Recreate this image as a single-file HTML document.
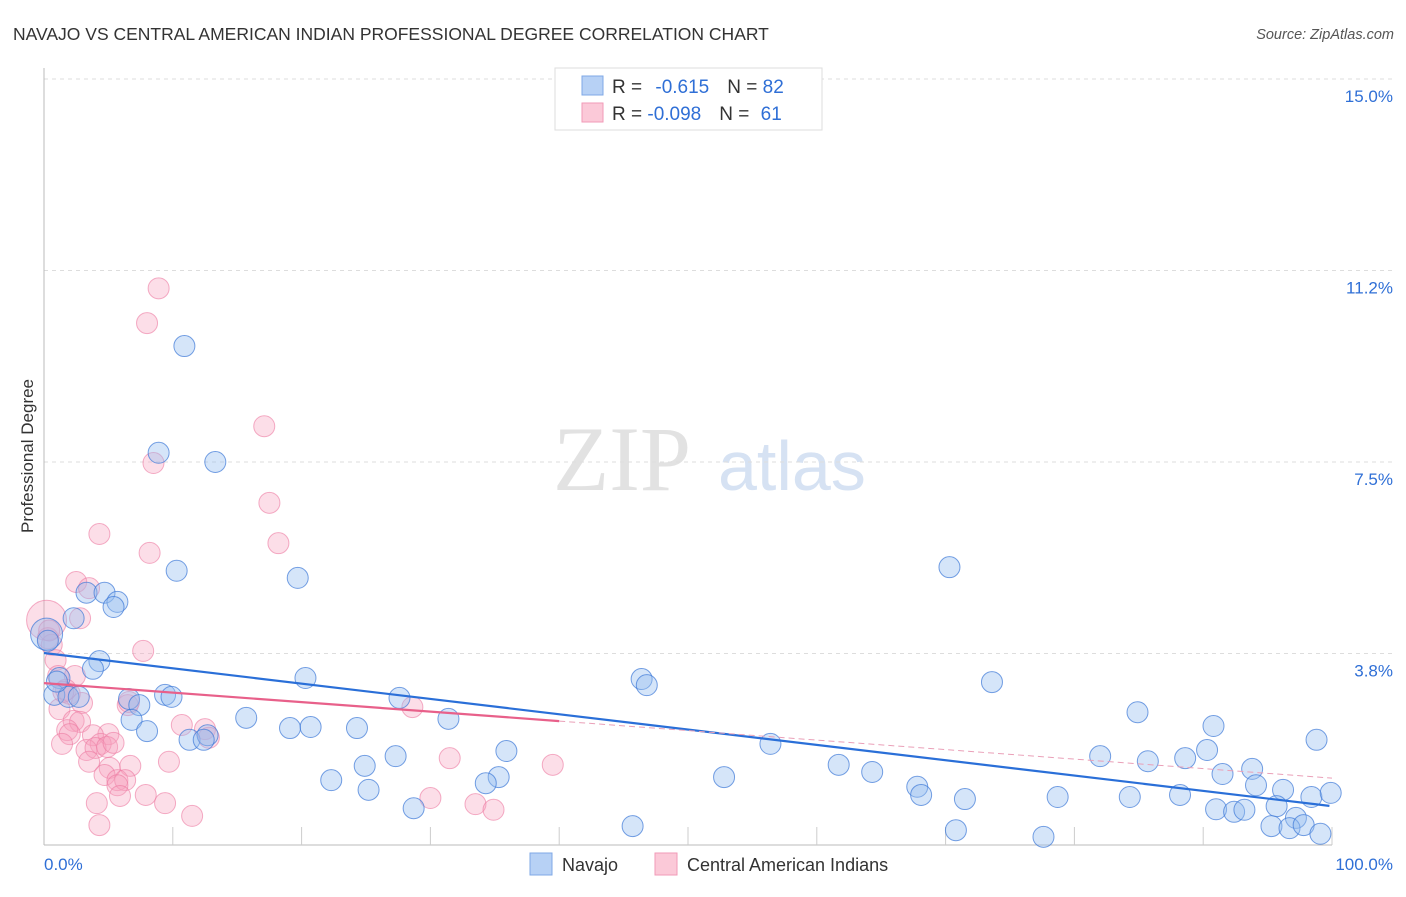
<!DOCTYPE html>
<html><head><meta charset="utf-8"><style>
body{margin:0;background:#fff;font-family:"Liberation Sans",sans-serif}
</style></head><body>
<svg id="chart" width="1406" height="892" viewBox="0 0 1406 892" xmlns="http://www.w3.org/2000/svg" font-family="Liberation Sans, sans-serif">
<text x="13" y="40" font-size="17.5" fill="#333">NAVAJO VS CENTRAL AMERICAN INDIAN PROFESSIONAL DEGREE CORRELATION CHART</text>
<text x="1394" y="39" font-size="14.5" fill="#555" font-style="italic" text-anchor="end">Source: ZipAtlas.com</text>
<g>
<text x="553" y="490" font-size="92" font-family="Liberation Serif, serif" fill="#e2e2e2">ZIP</text>
<text x="718" y="490" font-size="70" fill="#d6e2f3">atlas</text>
</g>
<g id="grid"></g>
<g id="axes"></g>
<g id="pts"></g>
<g id="trends"></g>
<text transform="translate(33,456) rotate(-90)" font-size="17" fill="#333" text-anchor="middle">Professional Degree</text>
<g>
<rect x="555" y="68" width="267" height="62" fill="#fff" stroke="#ddd"/>
<rect x="582" y="76" width="21" height="19" fill="#b7d1f5" stroke="#7fa8e6"/>
<rect x="582" y="103" width="21" height="19" fill="#fbc9d8" stroke="#f19ab7"/>
<text x="612" y="93" font-size="19" fill="#333">R = <tspan fill="#2f6fd6" dx="8">-0.615</tspan><tspan dx="18" fill="#333">N = </tspan><tspan fill="#2f6fd6">82</tspan></text>
<text x="612" y="120" font-size="19" fill="#333">R = <tspan fill="#2f6fd6">-0.098</tspan><tspan dx="18" fill="#333">N = </tspan><tspan fill="#2f6fd6" dx="6">61</tspan></text>
</g>
<g>
<rect x="530" y="853" width="22" height="22" fill="#b7d1f5" stroke="#7fa8e6"/>
<text x="562" y="871" font-size="18" fill="#333">Navajo</text>
<rect x="655" y="853" width="22" height="22" fill="#fbc9d8" stroke="#f19ab7"/>
<text x="687" y="871" font-size="18" fill="#333">Central American Indians</text>
</g>
</svg>
<script>
const yTicks=[3.75,7.5,11.25,15];
const yTickLabels=["3.8%","7.5%","11.2%","15.0%"];
const xTickLabels=["0.0%","100.0%"];
const navajoX=[10.9,8.9,13.3,10.3,19.7,70.3,3.3,4.7,5.7,5.4,2.3,0.2,4.3,3.8,20.3,46.4,46.8,73.6,1.2,0.8,1.9,2.7,6.6,7.4,9.4,9.9,27.6,6.8,8.0,15.7,19.1,20.7,24.3,31.4,84.9,90.8,11.3,12.7,12.4,56.4,35.9,27.3,90.3,98.8,82,85.7,88.6,24.9,61.7,64.3,93.8,91.5,22.3,35.3,34.3,52.8,94.1,67.8,25.2,68.1,71.5,78.7,84.3,88.2,96.2,98.4,99.9,28.7,91,92.4,93.2,95.7,97.2,95.3,96.7,97.8,99.1,45.7,70.8,77.6,0.3,1.0];
const navajoY=[9.77,7.68,7.5,5.37,5.23,5.44,4.94,4.94,4.76,4.66,4.44,4.13,3.6,3.45,3.27,3.25,3.13,3.19,3.27,2.94,2.9,2.9,2.86,2.74,2.94,2.9,2.88,2.45,2.23,2.49,2.29,2.31,2.29,2.47,2.6,2.33,2.06,2.15,2.06,1.98,1.84,1.74,1.86,2.06,1.74,1.64,1.7,1.55,1.57,1.43,1.49,1.39,1.27,1.33,1.21,1.33,1.17,1.14,1.08,0.98,0.9,0.94,0.94,0.98,1.08,0.94,1.02,0.72,0.7,0.65,0.69,0.76,0.53,0.37,0.33,0.39,0.22,0.37,0.29,0.16,4.0,3.2];
const camX=[8.9,8,17.1,8.5,17.5,18.2,4.3,8.2,2.5,3.5,2.8,0.2,0.3,0.6,7.7,0.9,1.1,2.4,1.7,2,2.95,1.2,6.5,28.6,2.3,2.8,1.8,2,10.7,12.5,12.8,1.4,5,3.8,4.4,3.3,4,4.9,5.4,3.5,9.7,31.5,39.5,5.1,6.7,4.7,5.7,6.3,5.7,7.9,5.9,30,4.1,9.4,33.5,34.9,11.5,4.3,0.4,1.5,6.6];
const camY=[10.9,10.22,8.2,7.48,6.7,5.91,6.09,5.72,5.15,5.03,4.44,4.4,4.05,3.92,3.8,3.62,3.31,3.31,3.04,2.96,2.78,2.66,2.74,2.7,2.43,2.41,2.25,2.17,2.35,2.27,2.1,1.98,2.17,2.15,1.98,1.86,1.9,1.92,2,1.63,1.63,1.7,1.57,1.51,1.55,1.37,1.27,1.27,1.17,0.98,0.96,0.92,0.82,0.82,0.8,0.69,0.57,0.39,4.2,3.0,2.8];
const navajoTrend=[3.76,0.76];
const camTrend=[3.17,1.31];
const camSolidEnd=40;
const ns="http://www.w3.org/2000/svg";
const X=v=>44+v*12.88, Y=v=>845-v*51.07;
function mk(t,a,p){const e=document.createElementNS(ns,t);for(const k in a)e.setAttribute(k,a[k]);p.appendChild(e);return e;}
const grid=document.getElementById('grid'),axes=document.getElementById('axes'),pts=document.getElementById('pts'),tr=document.getElementById('trends');
yTicks.forEach((t,i)=>{
 const l=mk('line',{x1:44,x2:1394,y1:Y(t),y2:Y(t),stroke:'#ddd','stroke-dasharray':'4,4'},grid);
 
 
 const tx=mk('text',{x:1393,y:Y(t)+23,'font-size':17,fill:'#2f6fd6','text-anchor':'end'},axes);
 
 
 tx.textContent=yTickLabels[i];
});
mk('line',{x1:44,x2:44,y1:68,y2:845,stroke:'#bbb'},axes);
mk('line',{x1:44,x2:1332,y1:845,y2:845,stroke:'#bbb'},axes);
for(let i=1;i<=10;i++){const tk=mk('line',{x1:X(i*10),x2:X(i*10),y1:827,y2:845,stroke:'#ccc'},axes);
 
 }
const xl0=mk('text',{x:44,y:870,'font-size':17,fill:'#2f6fd6'},axes);xl0.textContent=xTickLabels[0];


const xl1=mk('text',{x:1393,y:870,'font-size':17,fill:'#2f6fd6','text-anchor':'end'},axes);xl1.textContent=xTickLabels[1];


camX.forEach((x,i)=>{const r=(i==11)?20:10.5;const c=mk('circle',{cx:X(x),cy:Y(camY[i]),r:r,fill:'rgba(246,160,190,0.35)',stroke:'rgba(236,120,160,0.6)','stroke-width':1},pts);
 
 });
navajoX.forEach((x,i)=>{const r=(i==11)?16:10.5;const c=mk('circle',{cx:X(x),cy:Y(navajoY[i]),r:r,fill:'rgba(150,190,240,0.4)',stroke:'rgba(60,120,215,0.7)','stroke-width':1},pts);
 
 });
const nl=mk('line',{x1:X(0),y1:Y(navajoTrend[0]),x2:X(99.8),y2:Y(navajoTrend[0]+(navajoTrend[1]-navajoTrend[0])*0.998),stroke:'#2a6fd8','stroke-width':2.2},tr);


const cy=x=>camTrend[0]+(camTrend[1]-camTrend[0])*x/100;
const cl=mk('line',{x1:X(0),y1:Y(cy(0)),x2:X(camSolidEnd),y2:Y(cy(camSolidEnd)),stroke:'#e8608a','stroke-width':2.2},tr);


const cd=mk('line',{x1:X(camSolidEnd),y1:Y(cy(camSolidEnd)),x2:X(100),y2:Y(cy(100)),stroke:'#eaa0b8','stroke-width':1,'stroke-dasharray':'6,4'},tr);


</script>
</body></html>
